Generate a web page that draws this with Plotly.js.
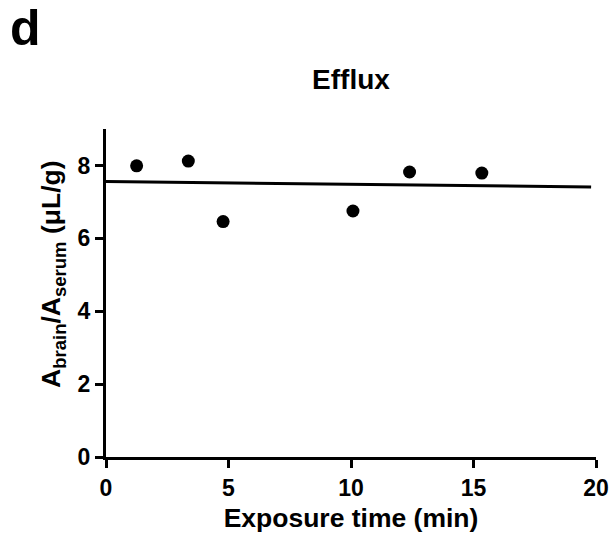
<!DOCTYPE html>
<html>
<head>
<meta charset="utf-8">
<script src="https://cdn.plot.ly/plotly-3.0.1.min.js"></script>
<style>html,body{margin:0;padding:0;background:#fff;}</style>
</head>
<body>
<div id="chart" style="width:612px;height:540px;"></div>
<script>
// Data
const exposureTime = [1.25, 3.36, 4.78, 10.08, 12.39, 15.34];
const ratioValues = [7.99, 8.12, 6.46, 6.75, 7.82, 7.79];
const fitTime = [0, 19.8];
const fitValues = [7.56, 7.41];
const xTicks = [0, 5, 10, 15, 20];
const yTicks = [0, 2, 4, 6, 8];

const FONT = 'Liberation Sans, Arial, Helvetica, sans-serif';

const traces = [
  {
    x: fitTime, y: fitValues, mode: 'lines', type: 'scatter',
    line: {color: '#000', width: 3}, hoverinfo: 'skip', showlegend: false
  },
  {
    x: exposureTime, y: ratioValues, mode: 'markers', type: 'scatter',
    marker: {color: '#000', size: 13, symbol: 'circle'}, showlegend: false
  }
];

const axisCommon = {
  showgrid: false, zeroline: false, showline: true, linecolor: '#000', linewidth: 3,
  ticks: 'outside', ticklen: 8, tickwidth: 3, tickcolor: '#000',
  tickfont: {family: FONT, size: 23, color: '#000', weight: 'bold'},
  fixedrange: true
};

const layout = {
  width: 612, height: 540,
  margin: {l: 106, r: 16, t: 129, b: 83, pad: 0},
  paper_bgcolor: '#fff', plot_bgcolor: '#fff',
  showlegend: false,
  title: {
    text: 'Efflux', font: {family: FONT, size: 28, color: '#000', weight: 'bold'},
    xref: 'paper', x: 0.5, xanchor: 'center', yref: 'container', y: 1 - 79/540, yanchor: 'middle'
  },
  xaxis: Object.assign({}, axisCommon, {
    range: [0, 20], tickvals: xTicks, ticktext: xTicks.map(String),
    title: {text: 'Exposure time (min)', font: {family: FONT, size: 26.5, color: '#000', weight: 'bold'}, standoff: 9}
  }),
  yaxis: Object.assign({}, axisCommon, {
    range: [0, 9], tickvals: yTicks, ticktext: yTicks.map(String)
  }),
  annotations: [
    {
      text: 'A<sub>brain</sub>/A<sub>serum</sub> (μL/g)', textangle: -90,
      xref: 'paper', yref: 'paper', x: (53 - 106) / 490, y: (457 - 274) / 328,
      xanchor: 'center', yanchor: 'middle', showarrow: false,
      font: {family: FONT, size: 26.5, color: '#000', weight: 'bold'}
    },
    {
      text: 'd', xref: 'paper', yref: 'paper',
      x: (8 - 106) / 490, y: (457 + 2) / 328, xanchor: 'left', yanchor: 'top', showarrow: false,
      font: {family: FONT, size: 50, color: '#000', weight: 'bold'}
    }
  ]
};

Plotly.newPlot('chart', traces, layout, {staticPlot: true, displayModeBar: false});
</script>
</body>
</html>
